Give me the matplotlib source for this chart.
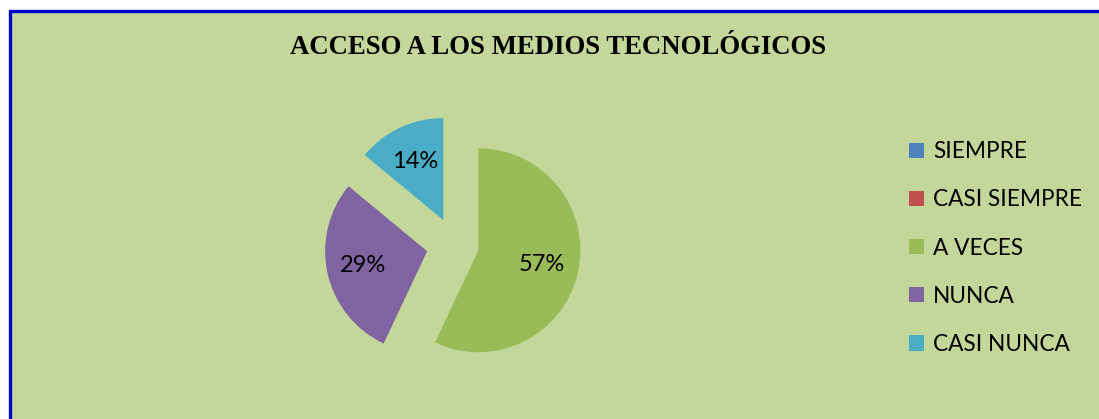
import matplotlib
matplotlib.use("Agg")
import matplotlib.pyplot as plt
from matplotlib.patches import Rectangle

# ---- data ----
categories = ["SIEMPRE", "CASI SIEMPRE", "A VECES", "NUNCA", "CASI NUNCA"]
values = [0, 0, 57, 29, 14]
title = "ACCESO A LOS MEDIOS TECNOLÓGICOS"

# ---- styles ----
colors = ["#4F81BD", "#C0504D", "#9BBB59", "#8064A2", "#4BACC6"]
explode_frac = [0, 0, 0.235, 0.28, 0.27]
bg = "#C4D79B"
W, H = 1099, 419
radius = 102

fig = plt.figure(figsize=(W / 100, H / 100), dpi=100)
fig.patch.set_facecolor("white")

# chart area box with blue border
fig.patches.append(Rectangle((9.5 / W, -0.05), 1.1, 1 - 11 / H + 0.05,
                             transform=fig.transFigure, facecolor=bg,
                             edgecolor="#0000CC", linewidth=2.4, zorder=-10))

ax = fig.add_axes([0, 0, 1, 1])
ax.set_zorder(1)
ax.patch.set_alpha(0)


def fmt(p):
    return f"{p:.0f}%" if p > 0.5 else ""


wedges, texts, autotexts = ax.pie(
    values, colors=colors, explode=[e * radius for e in explode_frac],
    startangle=90, counterclock=False,
    center=(455, H - 245), radius=radius, autopct=fmt, pctdistance=0.64,
    textprops=dict(fontsize=17, family="Lato", color="black"),
    wedgeprops=dict(linewidth=0))

ax.set_xlim(0, W)
ax.set_ylim(0, H)
ax.set_aspect("equal")
ax.axis("off")

fig.text(558 / W, 1 - 48 / H, title, ha="center", va="center",
         family="Liberation Serif", fontweight="bold", fontsize=19.3)

leg = fig.legend(wedges, categories, loc="upper left",
                 bbox_to_anchor=(898 / W, 1 - 130 / H),
                 frameon=False, prop=dict(family="Lato", size=16.3),
                 handlelength=0.65, handleheight=0.65, handletextpad=0.4,
                 labelspacing=1.2, borderpad=0)

fig.savefig("out.png", dpi=100)
